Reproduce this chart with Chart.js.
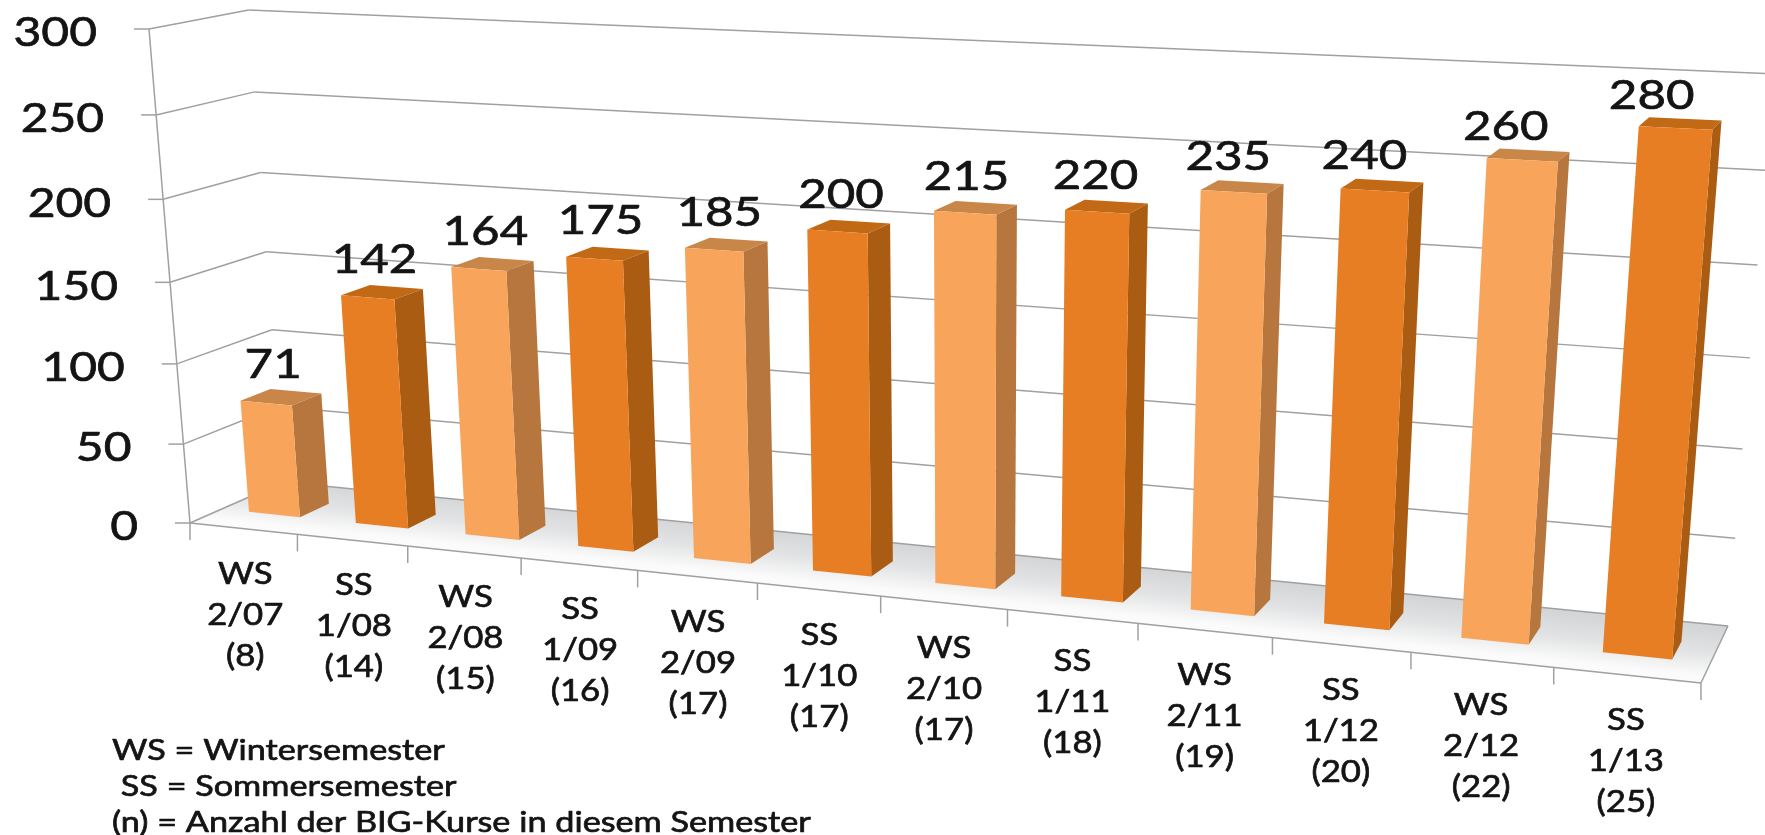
<!DOCTYPE html>
<html>
<head>
<meta charset="utf-8">
<style>
  html, body { margin: 0; padding: 0; background: #fff; overflow: hidden; }
  canvas { display: block; }
</style>
<script src="https://cdn.jsdelivr.net/npm/chart.js@4"></script>
</head>
<body>
<canvas id="chart" width="1765" height="835"></canvas>
<script>
// values
const semesters = ['WS','SS','WS','SS','WS','SS','WS','SS','WS','SS','WS','SS'];
const periods = ['2/07','1/08','2/08','1/09','2/09','1/10','2/10','1/11','2/11','1/12','2/12','1/13'];
const courses = ['(8)','(14)','(15)','(16)','(17)','(17)','(17)','(18)','(19)','(20)','(22)','(25)'];
const students = [71,142,164,175,185,200,215,220,235,240,260,280];
const yTicks = [0,50,100,150,200,250,300];
const notes = ['WS = Wintersemester',' SS = Sommersemester','(n) = Anzahl der BIG-Kurse in diesem Semester'];

const categories = semesters.map((s,i)=>[s,periods[i],courses[i]]);

const FONT = 'Lato';
const TEXT_COLOR = '#141414';
const GRID_COLOR = '#a0a0a0';
const LIGHT = {front:'#f9a45b', side:'#b6763d', top:'#c88749'};
const DARK = {front:'#e87e24', side:'#aa5c12', top:'#c26915'};
const BAR_FRONT = 0.33, BAR_BACK = 0.65;

// perspective of the box: u along the categories, v up the value axis, d into the depth
function project(u,v,d){
    let w = 1 - 0.158*u - 0.05*v + 0.0486*d;
    return {
        x: (190 + 1242.2*u - 48.45*v + 106.75*d)/w,
        y: (523 + 52.1*u - 495.45*v - 17.6*d)/w
    };
}

function poly(ctx,pts,fill){
    ctx.beginPath();
    pts.forEach((p,i)=> i ? ctx.lineTo(p.x,p.y) : ctx.moveTo(p.x,p.y));
    ctx.closePath();
    ctx.fillStyle = fill;
    ctx.fill();
}
function line(ctx,a,b){
    ctx.beginPath();
    ctx.moveTo(a.x,a.y);
    ctx.lineTo(b.x,b.y);
    ctx.stroke();
}
// the reference text is wider and heavier than the font, so stretch and thicken it
function text(ctx,str,x,y,size,align,stretch){
    ctx.save();
    ctx.translate(x,y);
    ctx.scale(stretch,1);
    ctx.font = size+'px '+FONT;
    ctx.fillStyle = TEXT_COLOR;
    ctx.strokeStyle = TEXT_COLOR;
    ctx.lineWidth = 0.7;
    ctx.lineJoin = 'round';
    ctx.textAlign = align;
    ctx.textBaseline = 'middle';
    ctx.fillText(str,0,0);
    ctx.strokeText(str,0,0);
    ctx.restore();
}

const box3d = {
    id:'box3d',
    beforeDatasetsDraw(chart){
        let ctx = chart.ctx, area = chart.chartArea, sy = chart.scales.y;
        let vOf = t => (area.bottom - sy.getPixelForValue(t))/(area.bottom-area.top);

        // floor, the shade runs square to the front edge
        let from = project(0.5,0,1), to = project(0.5,0,0);
        let slope = (project(1,0,0).y-project(0,0,0).y)/(project(1,0,0).x-project(0,0,0).x);
        let dist = (to.y-from.y)/(1+slope*slope);
        let g = ctx.createLinearGradient(from.x,from.y,from.x-slope*dist,from.y+dist);
        g.addColorStop(0,'#d3d5d7');
        g.addColorStop(0.5,'#e2e3e4');
        g.addColorStop(1,'#fbfbfb');
        poly(ctx,[project(0,0,0),project(1,0,0),project(1,0,1),project(0,0,1)],g);

        ctx.strokeStyle = GRID_COLOR;
        ctx.lineWidth = 1.5;
        // grid on the side wall and the back wall, ticks on the value axis
        yTicks.forEach(t=>{
            let v = vOf(t);
            let a = project(0,v,0), b = project(0,v,1), c = project(1,v,1);
            line(ctx,a,b);
            line(ctx,b,c);
            line(ctx,a,{x:a.x-15,y:a.y});
        });
        line(ctx,project(0,0,0),project(0,1,0));
        line(ctx,project(1,0,0),project(1,0,1));
        line(ctx,project(0,0,0),project(1,0,0));
        // ticks under the front edge
        for(let i=0;i<=categories.length;i++){
            let p = project(i/categories.length,0,0);
            line(ctx,p,{x:p.x,y:p.y+17});
        }

        yTicks.forEach(t=>{
            let a = project(0,vOf(t),0);
            text(ctx,String(t),a.x-52,a.y+4,41,'right',1.17);
        });
        categories.forEach((c,i)=>{
            let u = (i+0.5)/categories.length;
            let p = project(u,0,0);
            c.forEach((s,k)=> text(ctx,s,p.x+2-3*u,p.y+86+(k-1)*41,31,'center',1.12));
        });
        notes.forEach((s,k)=> text(ctx,s,112,751+k*36,29,'left',1.18));
    },
    // bars take their size from the bar elements, so they follow the scales
    beforeDatasetDraw(chart,args){
        let ctx = chart.ctx, area = chart.chartArea;
        let W = area.right-area.left, H = area.bottom-area.top;
        chart.getDatasetMeta(args.index).data.forEach((bar,i)=>{
            let c = semesters[i]==='WS' ? LIGHT : DARK;
            let u0 = (bar.x-bar.width/2-area.left)/W, u1 = (bar.x+bar.width/2-area.left)/W;
            let v = (bar.base-bar.y)/H;
            poly(ctx,[project(u0,v,BAR_FRONT),project(u1,v,BAR_FRONT),project(u1,v,BAR_BACK),project(u0,v,BAR_BACK)],c.top);
            poly(ctx,[project(u1,0,BAR_FRONT),project(u1,v,BAR_FRONT),project(u1,v,BAR_BACK),project(u1,0,BAR_BACK)],c.side);
            poly(ctx,[project(u0,0,BAR_FRONT),project(u1,0,BAR_FRONT),project(u1,v,BAR_FRONT),project(u0,v,BAR_FRONT)],c.front);
            let uc = (u0+u1)/2;
            let p = project(uc,v,BAR_FRONT);
            text(ctx,String(students[i]),p.x+7-35*uc*uc*uc,p.y-38+6*uc*uc,41,'center',1.2);
        });
        return false;
    }
};

new Chart(document.getElementById('chart'),{
    type:'bar',
    data:{
        labels:categories,
        datasets:[{data:students,backgroundColor:semesters.map(s=>s==='WS'?LIGHT.front:DARK.front),barPercentage:0.48,categoryPercentage:1}]
    },
    options:{
        responsive:false,
        animation:false,
        plugins:{legend:{display:false},tooltip:{enabled:false}},
        scales:{
            x:{display:false},
            y:{display:false,min:0,max:300,ticks:{stepSize:50}}
        }
    },
    plugins:[box3d]
});
</script>
</body>
</html>
